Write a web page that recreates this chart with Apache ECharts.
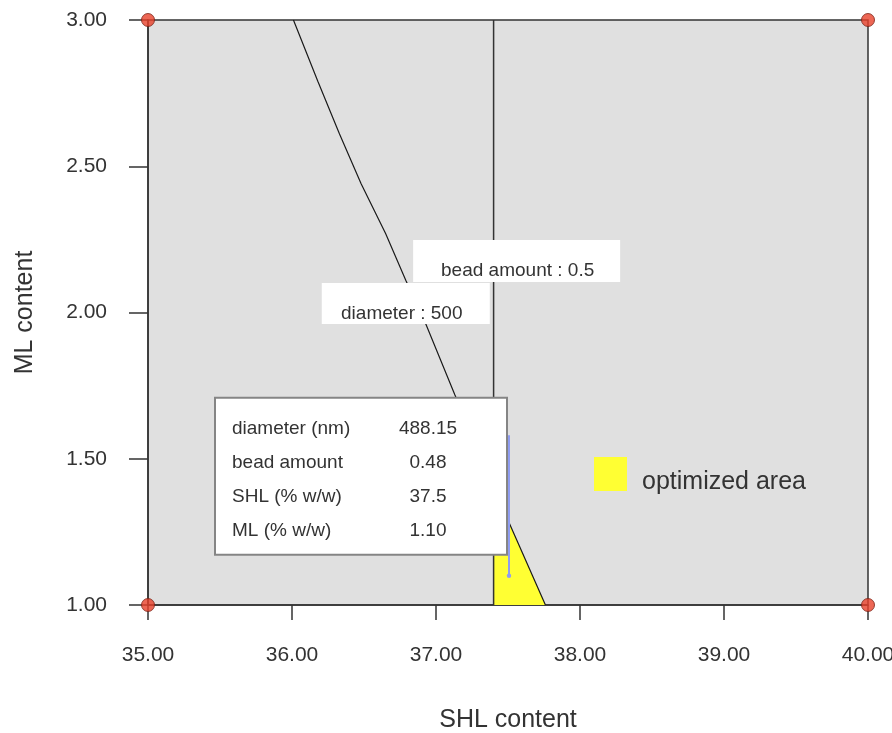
<!DOCTYPE html>
<html>
<head>
<meta charset="utf-8">
<script src="https://cdn.jsdelivr.net/npm/echarts@6/dist/echarts.min.js"></script>
<style>
  html, body { margin: 0; padding: 0; background: #ffffff; }
  #chart { width: 892px; height: 733px; }
</style>
</head>
<body>
<div id="chart"></div>
<script>
// Axis ranges and ticks
const xMin = 35, xMax = 40, xStep = 1;
const yMin = 1, yMax = 3, yStep = 0.5;

// Contour "diameter : 500"
const diameterX = [36.01, 36.18, 36.33, 36.48, 36.65, 36.79, 36.93, 37.13, 37.50, 37.76];
const diameterY = [3.00, 2.79, 2.61, 2.44, 2.27, 2.11, 1.96, 1.72, 1.29, 1.00];

// Contour "bead amount : 0.5"
const beadX = [37.40, 37.40];
const beadY = [1.00, 3.00];

// Optimized (overlay) region
const optX = [37.40, 37.40, 37.50, 37.76];
const optY = [1.00, 1.41, 1.29, 1.00];

// Design-space corner points
const cornerX = [35, 35, 40, 40];
const cornerY = [1, 3, 1, 3];

// Contour labels: anchor point and text
const contourLabelX = [37.56, 36.79];
const contourLabelY = [2.176, 2.031];
const contourLabelText = ['bead amount : 0.5', 'diameter : 500'];

// Flag point and its readout
const flagX = 37.5;
const flagY = 1.10;
const flagTopY = 1.58;
const flagNames = ['diameter (nm)', 'bead amount', 'SHL (% w/w)', 'ML (% w/w)'];
const flagValues = ['488.15', '0.48', '37.5', '1.10'];

const FONT = '"Liberation Sans", Arial, Helvetica, sans-serif';
const TXT = '#333333';

const chart = echarts.init(document.getElementById('chart'), null, { renderer: 'canvas' });

const option = {
  animation: false,
  backgroundColor: '#ffffff',
  textStyle: { fontFamily: FONT },
  grid: {
    left: 148, top: 20, width: 720, height: 585,
    outerBoundsMode: 'none', containLabel: false,
    show: true, backgroundColor: '#e0e0e0',
    borderColor: '#333333', borderWidth: 1.5
  },
  legend: {
    data: [{ name: 'optimized area', icon: 'rect' }],
    left: 594, top: 457, padding: 0,
    itemWidth: 33, itemHeight: 34,
    formatter: name => '{t|' + name + '}',
    textStyle: {
      color: TXT, fontFamily: FONT,
      rich: { t: { fontSize: 25, color: TXT, fontFamily: FONT, padding: [16, 0, 0, 10] } }
    },
    selectedMode: false
  },
  xAxis: {
    type: 'value', min: xMin, max: xMax, interval: xStep,
    name: 'SHL content', nameLocation: 'middle', nameGap: 103,
    nameTextStyle: { fontSize: 25, color: TXT, fontFamily: FONT },
    axisLine: { show: true, lineStyle: { color: '#333333', width: 1.5 } },
    axisTick: { show: true, inside: false, length: 15, lineStyle: { color: '#333333', width: 1.5 } },
    axisLabel: { margin: 40, fontSize: 21, color: TXT, fontFamily: FONT, formatter: v => v.toFixed(2) },
    splitLine: { show: false }
  },
  yAxis: {
    type: 'value', min: yMin, max: yMax, interval: yStep,
    name: 'ML content', nameLocation: 'middle', nameGap: 110, nameRotate: 90,
    nameTextStyle: { fontSize: 25, color: TXT, fontFamily: FONT },
    axisLine: { show: true, lineStyle: { color: '#333333', width: 1.5 } },
    axisTick: { show: true, inside: false, length: 19, lineStyle: { color: '#333333', width: 1.5 } },
    axisLabel: { margin: 41, fontSize: 21, color: TXT, fontFamily: FONT, formatter: v => v.toFixed(2) },
    splitLine: { show: false }
  },
  series: [
    {
      name: 'optimized area',
      type: 'custom',
      z: 2,
      itemStyle: { color: '#ffff33' },
      data: optX.map((x, i) => [x, optY[i]]),
      encode: { x: 0, y: 1 },
      renderItem: function (params, api) {
        if (params.dataIndex !== 0) return null;
        const pts = optX.map((x, i) => api.coord([x, optY[i]]));
        return {
          type: 'polygon',
          shape: { points: pts },
          style: { fill: '#ffff33', stroke: null }
        };
      }
    },
    {
      name: 'diameter',
      type: 'line',
      z: 3,
      data: diameterX.map((x, i) => [x, diameterY[i]]),
      showSymbol: false,
      lineStyle: { color: '#1a1a1a', width: 1.2 },
      silent: true
    },
    {
      name: 'bead amount',
      type: 'line',
      z: 3,
      data: beadX.map((x, i) => [x, beadY[i]]),
      showSymbol: false,
      lineStyle: { color: '#333333', width: 1.5 },
      silent: true
    },
    {
      name: 'contour labels',
      type: 'custom',
      z: 4,
      data: contourLabelX.map((x, i) => [x, contourLabelY[i], i]),
      encode: { x: 0, y: 1 },
      renderItem: function (params, api) {
        const p = api.coord([api.value(0), api.value(1)]);
        const i = api.value(2);
        const w = i === 0 ? 207 : 168;
        const h = i === 0 ? 42 : 41;
        const tx = i === 0 ? 1 : -4;
        return {
          type: 'group',
          children: [
            { type: 'rect', shape: { x: p[0] - w / 2, y: p[1] - h / 2, width: w, height: h },
              style: { fill: '#ffffff' } },
            { type: 'text', x: p[0] + tx, y: p[1] + 10,
              style: { text: contourLabelText[i], fill: TXT, font: '19px ' + FONT,
                       align: 'center', verticalAlign: 'middle' } }
          ]
        };
      }
    },
    {
      name: 'flag',
      type: 'custom',
      z: 5,
      data: [[flagX, flagY]],
      encode: { x: 0, y: 1 },
      renderItem: function (params, api) {
        const p = api.coord([flagX, flagY]);
        const top = api.coord([flagX, flagTopY]);
        const children = [
          { type: 'rect', shape: { x: p[0] - 293, y: p[1] - 178, width: 292, height: 157 },
            style: { fill: '#ffffff', stroke: '#858585', lineWidth: 2 } }
        ];
        flagNames.forEach((n, k) => {
          const ty = p[1] - 147 + k * 34;
          children.push({ type: 'text', x: p[0] - 276, y: ty,
            style: { text: n, fill: TXT, font: '19px ' + FONT, align: 'left', verticalAlign: 'middle' } });
          children.push({ type: 'text', x: p[0] - 80, y: ty,
            style: { text: flagValues[k], fill: TXT, font: '19px ' + FONT, align: 'center', verticalAlign: 'middle' } });
        });
        children.push({ type: 'line', shape: { x1: p[0] + 1, y1: p[1], x2: p[0] + 1, y2: top[1] },
          style: { stroke: '#8f9cf0', lineWidth: 2 } });
        children.push({ type: 'circle', shape: { cx: p[0] + 1, cy: p[1], r: 2.2 },
          style: { fill: '#8f9cf0' } });
        return { type: 'group', children: children };
      }
    },
    {
      name: 'corners',
      type: 'scatter',
      z: 6,
      clip: false,
      data: cornerX.map((x, i) => [x, cornerY[i]]),
      symbol: 'circle',
      symbolSize: 13,
      itemStyle: { color: '#e8412a', borderColor: '#7a2215', borderWidth: 1 },
      silent: true
    }
  ]
};

chart.setOption(option);
</script>
</body>
</html>
